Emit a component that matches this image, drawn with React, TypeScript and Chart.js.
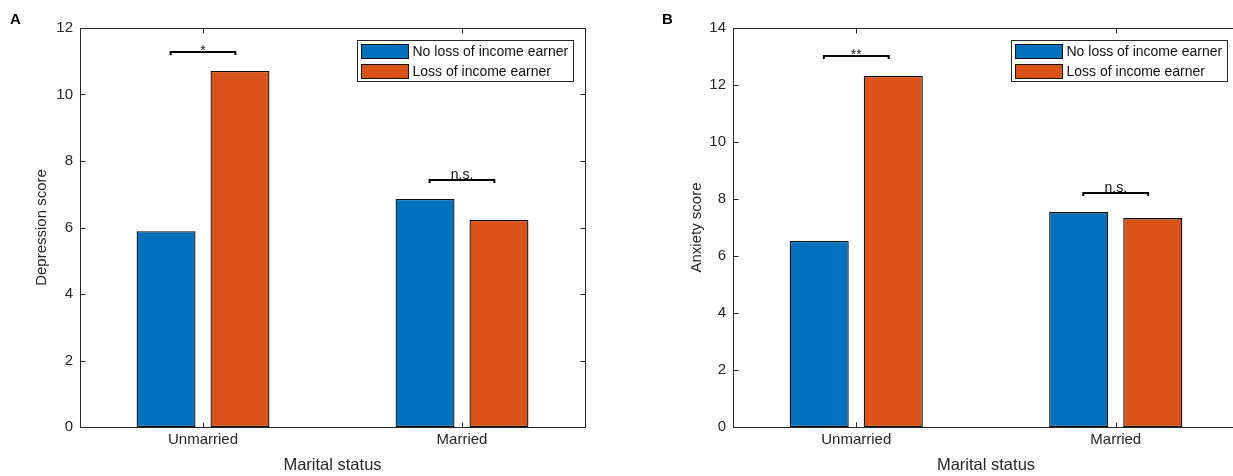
import React, { useEffect, useRef } from 'react';
import { Chart, registerables } from 'chart.js';

Chart.register(...registerables);

// ---------- data ----------
const categories = ['Unmarried', 'Married'];
const seriesLabels = ['No loss of income earner', 'Loss of income earner'];
const seriesColors = ['#0072BD', '#D95319'];

const depressionNoLoss = [5.89, 6.86];
const depressionLoss = [10.71, 6.23];
const depressionBracketY = [11.29, 7.43];
const depressionBracketText = ['*', 'n.s.'];
const depressionYTicks = [0, 2, 4, 6, 8, 10, 12];

const anxietyNoLoss = [6.53, 7.54];
const anxietyLoss = [12.32, 7.33];
const anxietyBracketY = [13.02, 8.21];
const anxietyBracketText = ['**', 'n.s.'];
const anxietyYTicks = [0, 2, 4, 6, 8, 10, 12, 14];

const FONT = "'Liberation Sans', Arial, Helvetica, sans-serif";
const AXIS_COLOR = '#262626';
const TICK_SIZE = 15;
const X_TITLE_SIZE = 16.5;
const Y_TITLE_SIZE = 15;

type PanelProps = {
  letter: string;
  yTitle: string;
  noLoss: number[];
  loss: number[];
  bracketY: number[];
  bracketText: string[];
  yTicks: number[];
  left: number;
  width: number;
  padLeft: number;
  padRight: number;
  yTitlePad: number;
  letterX: number;
};

function makeDecor(p: PanelProps) {
  return {
    id: 'decor' + p.letter,
    afterDatasetsDraw(chart: any) {
      const ctx = chart.ctx;
      const xs = chart.scales.x;
      const ys = chart.scales.y;
      ctx.save();
      ctx.strokeStyle = '#000';
      ctx.fillStyle = '#111';
      ctx.lineWidth = 2;
      ctx.font = `14px ${FONT}`;
      ctx.textAlign = 'center';
      ctx.textBaseline = 'alphabetic';
      categories.forEach((_, i) => {
        const x1 = xs.getPixelForValue(i + 1 - 0.125);
        const x2 = xs.getPixelForValue(i + 1 + 0.125);
        const y = Math.round(ys.getPixelForValue(p.bracketY[i]));
        ctx.beginPath();
        ctx.moveTo(x1, y + 3);
        ctx.lineTo(x1, y);
        ctx.lineTo(x2, y);
        ctx.lineTo(x2, y + 3);
        ctx.stroke();
        const label = p.bracketText[i];
        const m = ctx.measureText(label);
        const desc = m.actualBoundingBoxDescent || 0;
        ctx.fillText(label, (x1 + x2) / 2, y - 1 - desc);
      });
      ctx.restore();
    },
    afterDraw(chart: any) {
      const ctx = chart.ctx;
      const ca = chart.chartArea;
      const xs = chart.scales.x;
      const ys = chart.scales.y;
      ctx.save();
      // box (four edges)
      const L = Math.round(ca.left) + 0.5;
      const R = Math.round(ca.right) + 0.5;
      const T = Math.round(ca.top) + 0.5;
      const B = Math.round(ca.bottom) + 0.5;
      ctx.strokeStyle = AXIS_COLOR;
      ctx.lineWidth = 1;
      ctx.beginPath();
      ctx.moveTo(L, T); ctx.lineTo(R, T);
      ctx.moveTo(L, B); ctx.lineTo(R, B);
      ctx.moveTo(L, T); ctx.lineTo(L, B);
      ctx.moveTo(R, T); ctx.lineTo(R, B);
      ctx.stroke();
      // inward ticks
      ctx.beginPath();
      p.yTicks.forEach((v) => {
        const y = Math.round(ys.getPixelForValue(v)) + 0.5;
        ctx.moveTo(L, y); ctx.lineTo(L + 5, y);
        ctx.moveTo(R, y); ctx.lineTo(R - 5, y);
      });
      categories.forEach((_, i) => {
        const x = Math.round(xs.getPixelForValue(i + 1)) + 0.5;
        ctx.moveTo(x, B); ctx.lineTo(x, B - 5);
        ctx.moveTo(x, T); ctx.lineTo(x, T + 5);
      });
      ctx.stroke();
      // legend
      ctx.font = `14px ${FONT}`;
      const textW = Math.max(...seriesLabels.map((s) => ctx.measureText(s).width));
      const sw = 47, sh = 14;
      const boxW = Math.round(4 + sw + 4 + textW + 5);
      const boxH = 41;
      const bx = Math.round(ca.right - 12 - boxW) + 0.5;
      const by = Math.round(ca.top + 12) + 0.5;
      ctx.fillStyle = '#fff';
      ctx.fillRect(bx, by, boxW, boxH);
      ctx.strokeStyle = AXIS_COLOR;
      ctx.strokeRect(bx, by, boxW, boxH);
      seriesLabels.forEach((s, i) => {
        const sy = by + 4 + i * 20;
        ctx.fillStyle = seriesColors[i];
        ctx.fillRect(bx + 4, sy, sw, sh);
        ctx.strokeStyle = '#111';
        ctx.strokeRect(bx + 4, sy, sw, sh);
        ctx.fillStyle = '#111';
        ctx.textAlign = 'left';
        ctx.textBaseline = 'middle';
        ctx.fillText(s, bx + 4 + sw + 4, sy + sh / 2 + 1);
      });
      // panel letter
      ctx.fillStyle = '#000';
      ctx.font = `bold 15px ${FONT}`;
      ctx.textAlign = 'left';
      ctx.textBaseline = 'alphabetic';
      ctx.fillText(p.letter, p.letterX, 24);
      ctx.restore();
    },
  };
}

function Panel(p: PanelProps) {
  const ref = useRef<HTMLCanvasElement | null>(null);
  useEffect(() => {
    if (!ref.current) return;
    const chart = new Chart(ref.current, {
      type: 'bar',
      data: {
        datasets: [
          {
            label: seriesLabels[0],
            data: categories.map((_, i) => ({ x: i + 1, y: p.noLoss[i] })),
            backgroundColor: seriesColors[0],
            borderColor: '#0a0a0a',
            borderWidth: 1.3,
            borderSkipped: false,
          },
          {
            label: seriesLabels[1],
            data: categories.map((_, i) => ({ x: i + 1, y: p.loss[i] })),
            backgroundColor: seriesColors[1],
            borderColor: '#0a0a0a',
            borderWidth: 1.3,
            borderSkipped: false,
          },
        ],
      },
      options: {
        responsive: false,
        animation: false,
        devicePixelRatio: 1,
        categoryPercentage: 0.571,
        barPercentage: 0.797,
        layout: { padding: { left: p.padLeft, right: p.padRight, top: 28, bottom: 0 } },
        plugins: { legend: { display: false }, tooltip: { enabled: false } },
        scales: {
          x: {
            type: 'linear',
            offset: false,
            min: 0.525,
            max: 2.475,
            grid: { display: false, drawTicks: false },
            border: { display: false },
            afterBuildTicks: (scale: any) => {
              scale.ticks = categories.map((_, i) => ({ value: i + 1 }));
            },
            afterFit: (scale: any) => { scale.height = 49; },
            ticks: {
              padding: 4,
              maxRotation: 0,
              autoSkip: false,
              color: AXIS_COLOR,
              font: { family: FONT, size: TICK_SIZE },
              callback: (v: any) => categories[Math.round(Number(v)) - 1] ?? '',
            },
            title: {
              display: true,
              text: 'Marital status',
              color: AXIS_COLOR,
              font: { family: FONT, size: X_TITLE_SIZE },
              padding: { top: 0, bottom: 0.5 },
            },
          },
          y: {
            min: p.yTicks[0],
            max: p.yTicks[p.yTicks.length - 1],
            grid: { display: false, drawTicks: false },
            border: { display: false },
            afterBuildTicks: (scale: any) => {
              scale.ticks = p.yTicks.map((v) => ({ value: v }));
            },
            afterFit: (scale: any) => { scale.width = 80; },
            ticks: {
              padding: 7,
              color: AXIS_COLOR,
              font: { family: FONT, size: TICK_SIZE },
            },
            title: {
              display: true,
              text: p.yTitle,
              color: AXIS_COLOR,
              font: { family: FONT, size: Y_TITLE_SIZE },
              padding: { top: p.yTitlePad, bottom: 0 },
            },
          },
        },
      } as any,
      plugins: [makeDecor(p)],
    });
    return () => chart.destroy();
  }, []);
  return (
    <canvas
      ref={ref}
      width={p.width}
      height={476}
      style={{ position: 'absolute', left: p.left, top: 0, width: p.width, height: 476 }}
    />
  );
}

export default function App() {
  return (
    <div
      style={{
        position: 'fixed',
        left: 0,
        top: 0,
        width: 1233,
        height: 476,
        overflow: 'hidden',
        background: '#fff',
      }}
    >
      <Panel
        letter="A"
        yTitle="Depression score"
        noLoss={depressionNoLoss}
        loss={depressionLoss}
        bracketY={depressionBracketY}
        bracketText={depressionBracketText}
        yTicks={depressionYTicks}
        left={0}
        width={616}
        padLeft={0}
        padRight={31}
        yTitlePad={33}
        letterX={10}
      />
      <Panel
        letter="B"
        yTitle="Anxiety score"
        noLoss={anxietyNoLoss}
        loss={anxietyLoss}
        bracketY={anxietyBracketY}
        bracketText={anxietyBracketText}
        yTicks={anxietyYTicks}
        left={616}
        width={640}
        padLeft={37}
        padRight={17}
        yTitlePad={35}
        letterX={46}
      />
    </div>
  );
}
